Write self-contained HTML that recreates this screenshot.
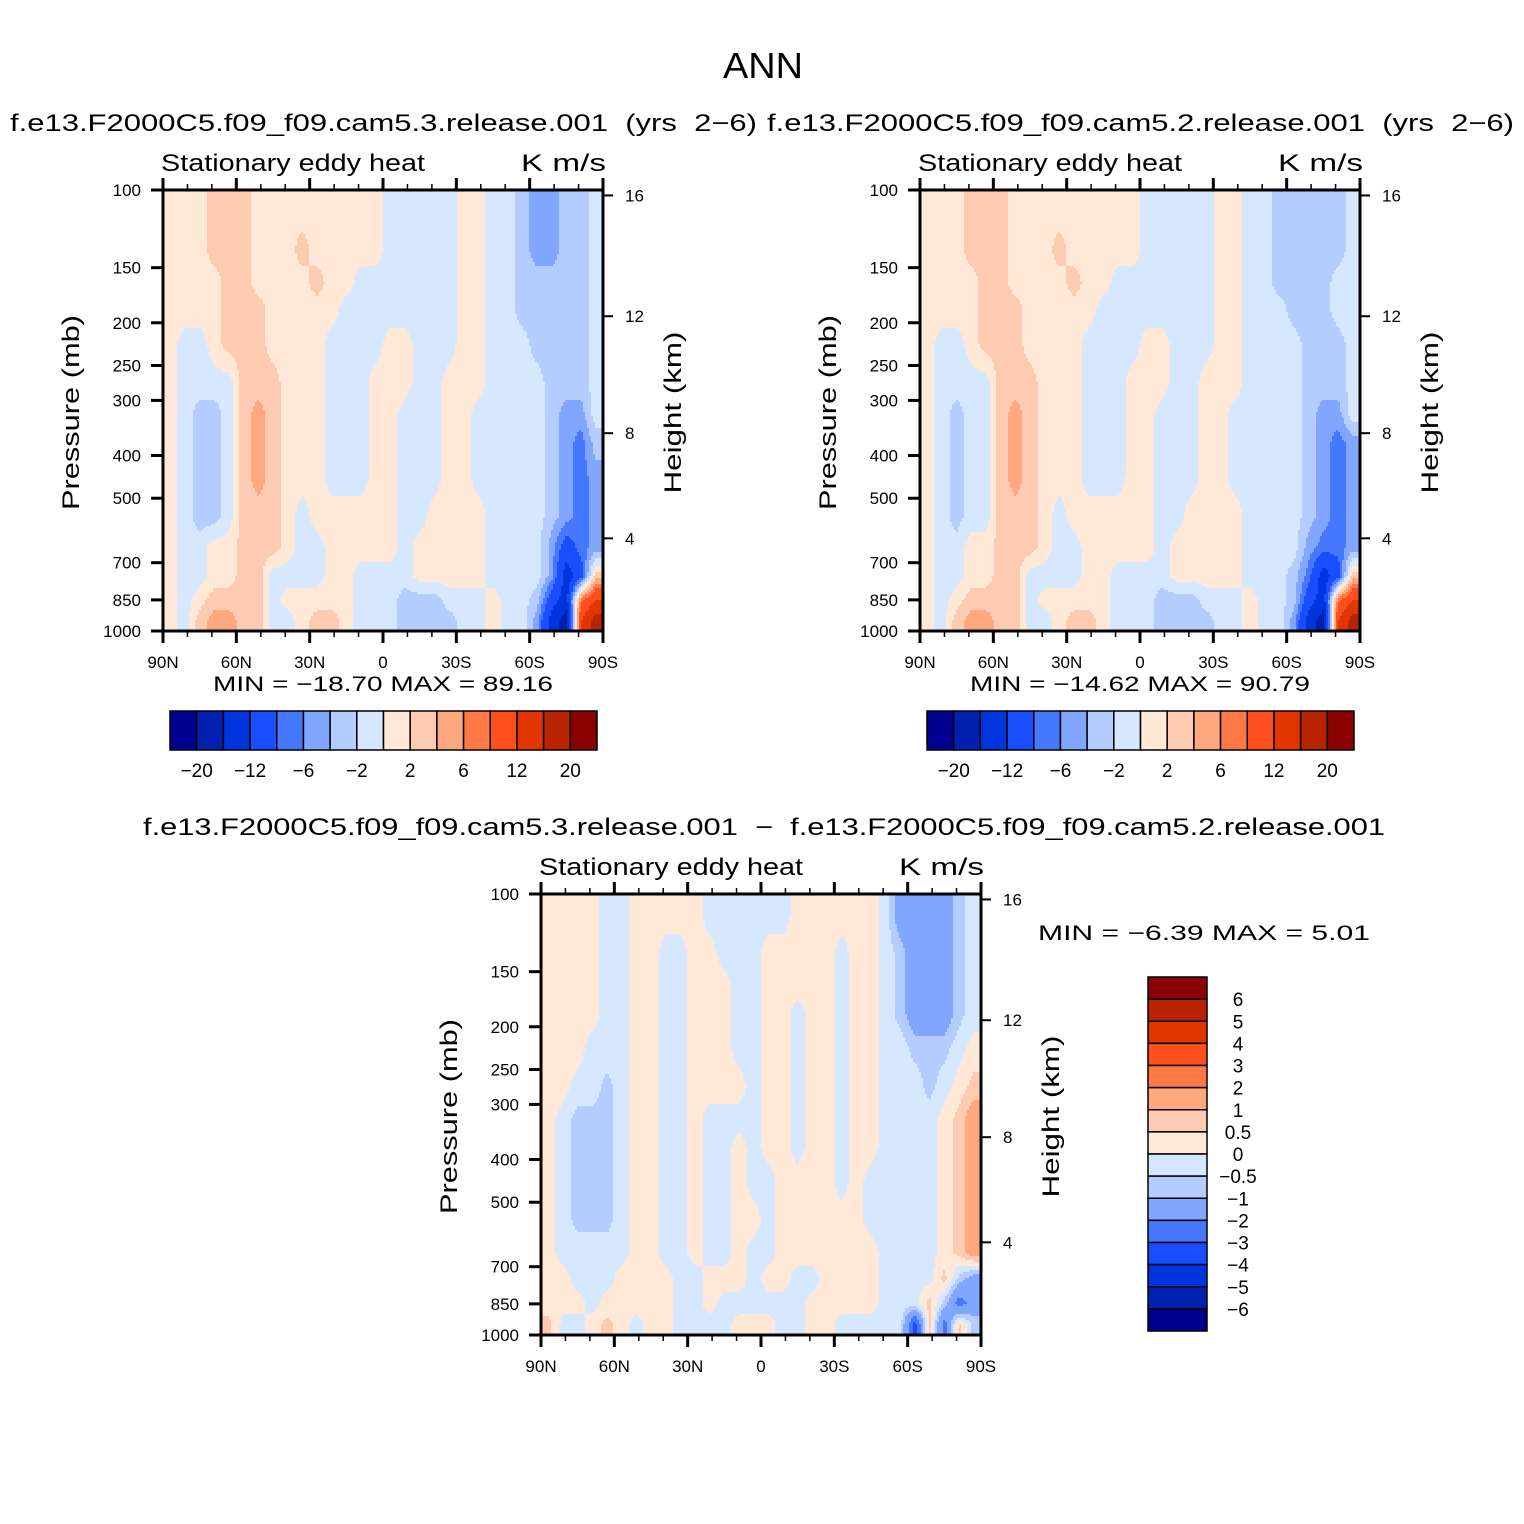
<!DOCTYPE html>
<html><head><meta charset="utf-8"><style>
html,body{margin:0;padding:0;background:#fff;}
svg{display:block;font-family:"Liberation Sans",sans-serif;}
</style></head><body>
<svg id="fig" width="1524" height="1524" viewBox="0 0 1524 1524" xmlns="http://www.w3.org/2000/svg">
<rect x="0" y="0" width="1524" height="1524" fill="#fff"/>
<text x="763" y="78" font-size="36" text-anchor="middle" textLength="80" lengthAdjust="spacingAndGlyphs">ANN</text>
<text x="10" y="131" font-size="24" textLength="747" lengthAdjust="spacingAndGlyphs" xml:space="preserve">f.e13.F2000C5.f09_f09.cam5.3.release.001  (yrs  2−6)</text>
<text x="767" y="131" font-size="24" textLength="747" lengthAdjust="spacingAndGlyphs" xml:space="preserve">f.e13.F2000C5.f09_f09.cam5.2.release.001  (yrs  2−6)</text>
<text x="143" y="835" font-size="24" textLength="1242" lengthAdjust="spacingAndGlyphs" xml:space="preserve">f.e13.F2000C5.f09_f09.cam5.3.release.001  −  f.e13.F2000C5.f09_f09.cam5.2.release.001</text>
</svg>
<script>
// ---- data ----
const latCenters = [87,81,75,69,63,57,51,45,39,33,27,21,15,9,3,-3,-9,-15,-21,-27,-33,-39,-45,-51,-57,-63,-69,-75,-81,-87];
const pressureEdges = [100,125,150,175,200,250,300,350,400,500,600,700,800,900,1000];
const pressureTicks = [100,150,200,250,300,400,500,700,850,1000];
const heightTicks = [4,8,12,16];
const latTicks = [90,60,30,0,-30,-60,-90];
const latTickLabels = ["90N","60N","30N","0","30S","60S","90S"];
const levelsAbs = [-20,-16,-12,-8,-6,-4,-2,0,2,4,6,8,12,16,20];
const levelsAbsLabels = ["−20","","−12","","−6","","−2","","2","","6","","12","","20"];
const levelsDiff = [-6,-5,-4,-3,-2,-1,-0.5,0,0.5,1,2,3,4,5,6];
const levelsDiffLabels = ["−6","−5","−4","−3","−2","−1","−0.5","0","0.5","1","2","3","4","5","6"];
const palette = ["#000090","#0020B0","#0035DD","#1A4DFF","#4677FF","#80A6FF","#B4CCFF","#D6E8FF","#FFE8D6","#FFCAB2","#FFA880","#FF7846","#FF4F1E","#E33500","#B82400","#8B0000"];

const p1Values = [
[1,1,1,3,3,3,1,1,1,1,1,1,1,1,1,-1,-1,-1,-1,-1,1,1,-1,-1,-3,-5,-5,-3,-3,-1],
[1,1,1,3,3,3,1,1,1,3,1,1,1,1,1,-1,-1,-1,-1,-1,1,1,-1,-1,-3,-5,-5,-3,-3,-1],
[1,1,1,1,3,3,1,1,1,1,3,1,1,-1,-1,-1,-1,-1,-1,-1,1,1,-1,-1,-3,-3,-3,-3,-3,-1],
[1,1,1,1,3,3,3,1,1,1,1,1,-1,-1,-1,-1,-1,-1,-1,-1,1,1,-1,-1,-3,-3,-3,-3,-3,-1],
[1,-1,-1,1,3,3,3,1,1,1,1,-1,-1,-1,-1,1,1,-1,-1,-1,1,1,-1,-1,-1,-3,-3,-3,-3,-1],
[1,-1,-1,-1,-1,3,3,3,1,1,1,-1,-1,-1,1,1,1,-1,-1,1,1,1,-1,-1,-1,-1,-3,-3,-3,-1],
[1,-1,-3,-3,-1,3,5,3,1,1,1,-1,-1,-1,1,1,-1,-1,-1,1,1,-1,-1,-1,-1,-1,-3,-5,-5,-1],
[1,-1,-3,-3,-1,3,5,3,1,1,1,-1,-1,-1,1,1,-1,-1,-1,1,1,-1,-1,-1,-1,-1,-3,-5,-7,-3],
[1,-1,-3,-3,-1,3,5,3,1,1,1,-1,-1,-1,1,1,-1,-1,-1,1,1,-1,-1,-1,-1,-1,-3,-5,-7,-5],
[1,-1,-3,-3,-1,3,3,3,1,-1,1,1,1,1,1,1,-1,-1,1,1,1,1,-1,-1,-1,-1,-3,-5,-7,-5],
[1,-1,-1,1,1,3,3,3,1,-1,-1,1,1,1,1,1,-1,1,1,1,1,1,-1,-1,-1,-1,-5,-10,-7,-5],
[1,-1,-1,1,1,3,3,-1,-1,-1,-1,1,1,-1,-1,-1,-1,1,1,1,1,1,-1,-1,-1,-1,-5,-14,-10,3],
[1,-1,1,3,3,3,3,-1,1,1,1,1,1,-1,-1,-1,-3,-3,-3,-1,-1,-1,1,-1,-1,-3,-10,-14,7,12],
[1,-1,3,5,5,3,3,-1,-1,1,3,3,1,-1,-1,-1,-3,-3,-3,-3,-1,-1,1,-1,-1,-5,-14,-18,12,18]
];
const p2Values = [
[1,1,1,3,3,3,1,1,1,1,1,1,1,1,1,-1,-1,-1,-1,-1,1,1,-1,-1,-3,-3,-3,-3,-3,-1],
[1,1,1,3,3,3,1,1,1,3,1,1,1,1,1,-1,-1,-1,-1,-1,1,1,-1,-1,-3,-3,-3,-3,-3,-1],
[1,1,1,1,3,3,1,1,1,1,3,1,1,-1,-1,-1,-1,-1,-1,-1,1,1,-1,-1,-3,-3,-3,-3,-1,-1],
[1,1,1,1,3,3,3,1,1,1,1,1,-1,-1,-1,-1,-1,-1,-1,-1,1,1,-1,-1,-1,-3,-3,-3,-1,-1],
[1,-1,-1,1,3,3,3,1,1,1,1,-1,-1,-1,-1,1,1,-1,-1,-1,1,1,-1,-1,-1,-1,-3,-3,-3,-1],
[1,-1,-1,-1,-1,3,3,3,1,1,1,-1,-1,-1,1,1,1,-1,-1,1,1,1,-1,-1,-1,-1,-3,-3,-3,-1],
[1,-1,-3,-1,-1,3,5,3,1,1,1,-1,-1,-1,1,1,-1,-1,-1,1,1,-1,-1,-1,-1,-1,-3,-5,-5,-1],
[1,-1,-3,-1,-1,3,5,3,1,1,1,-1,-1,-1,1,1,-1,-1,-1,1,1,-1,-1,-1,-1,-1,-3,-5,-7,-5],
[1,-1,-3,-1,-1,3,5,3,1,1,1,-1,-1,-1,1,1,-1,-1,-1,1,1,-1,-1,-1,-1,-1,-3,-5,-7,-5],
[1,-1,-3,-1,-1,3,3,3,1,-1,1,1,1,1,1,1,-1,-1,1,1,1,1,-1,-1,-1,-1,-3,-5,-7,-5],
[1,-1,-1,1,1,3,3,3,1,-1,-1,1,1,1,1,1,-1,1,1,1,1,1,-1,-1,-1,-1,-5,-7,-7,-5],
[1,-1,-1,1,1,3,3,-1,-1,-1,-1,1,1,-1,-1,-1,-1,1,1,1,1,1,-1,-1,-1,-3,-7,-14,-10,3],
[1,-1,1,3,3,3,3,-1,1,1,1,1,1,-1,-1,-1,-3,-3,-3,-1,-1,-1,1,-1,-1,-3,-10,-14,7,12],
[1,-1,3,5,5,3,3,-1,-1,1,3,3,1,-1,-1,-1,-3,-3,-3,-3,-1,-1,1,-1,-1,-5,-14,-18,12,18]
];
const p3Values = [
[.2,.2,.2,.2,-.2,-.2,.2,.2,.2,.2,.2,-.2,-.2,-.2,-.2,-.2,-.2,.2,.2,.2,.2,.2,.2,-.2,-1.5,-1.5,-1.5,-1.5,-.7,-.2],
[.2,.2,.2,.2,-.2,-.2,.2,.2,-.2,-.2,.2,.2,-.2,-.2,-.2,.2,.2,.2,.2,.2,-.2,.2,.2,-.2,-.7,-1.5,-1.5,-1.5,-.7,-.2],
[.2,.2,.2,.2,-.2,-.2,.2,.2,-.2,-.2,.2,.2,.2,-.2,-.2,.2,.2,.2,.2,.2,-.2,.2,.2,-.2,-.7,-1.5,-1.5,-1.5,-.7,-.2],
[.2,.2,.2,.2,-.2,-.2,.2,.2,-.2,-.2,.2,.2,.2,-.2,-.2,.2,.2,-.2,.2,.2,-.2,.2,.2,-.2,-.7,-1.5,-1.5,-1.5,-.7,-.2],
[.2,.2,.2,-.2,-.2,-.2,.2,.2,-.2,-.2,.2,.2,.2,-.2,-.2,.2,.2,-.2,.2,.2,-.2,.2,.2,-.2,-.2,-.7,-.7,-.7,-.2,.2],
[.2,.2,-.2,-.2,-.7,-.2,.2,.2,-.2,-.2,.2,.2,.2,.2,-.2,.2,.2,-.2,.2,.2,-.2,.2,.2,-.2,-.2,-.2,-.7,-.2,.2,.7],
[.2,-.2,-.7,-.7,-.7,-.2,.2,.2,-.2,-.2,.2,-.2,-.2,-.2,-.2,.2,.2,-.2,.2,.2,-.2,.2,.2,-.2,-.2,-.2,-.2,.2,.7,1.5],
[.2,-.2,-.7,-.7,-.7,-.2,.2,.2,-.2,-.2,.2,-.2,-.2,.2,-.2,.2,.2,-.2,.2,.2,-.2,.2,.2,-.2,-.2,-.2,-.2,.2,.7,1.5],
[.2,-.2,-.7,-.7,-.7,-.2,.2,.2,-.2,-.2,.2,-.2,-.2,.2,-.2,-.2,.2,.2,.2,.2,-.2,.2,-.2,-.2,-.2,-.2,-.2,.2,.7,1.5],
[.2,-.2,-.7,-.7,-.7,-.2,.2,.2,-.2,-.2,.2,-.2,-.2,.2,.2,-.2,.2,.2,.2,.2,.2,.2,-.2,-.2,-.2,-.2,-.2,.2,.7,1.5],
[.2,-.2,-.2,-.2,-.2,-.2,.2,.2,-.2,-.2,.2,-.2,-.2,.2,-.2,-.2,.2,.2,.2,.2,.2,.2,.2,-.2,-.2,-.2,-.2,.2,.7,1.5],
[.2,.2,-.2,-.2,-.2,.2,.2,.2,.2,-.2,-.2,.2,.2,.2,-.2,.2,.2,-.2,-.2,.2,.2,.2,.2,-.2,-.2,-.2,-.2,.7,-.7,-1.5],
[.2,.2,.2,-.2,.2,.2,.2,.2,.2,-.2,-.2,.2,-.2,-.2,-.2,-.2,-.2,-.2,.2,.2,.2,.2,.2,-.2,-.2,-.2,.7,-.7,-2.5,-1.5],
[.7,-.2,-.2,.2,.7,.2,-.2,.2,.2,-.2,-.2,-.2,-.2,.2,.2,.2,-.2,-.2,.2,.2,-.2,-.2,-.2,-.2,-.2,-3.5,.7,-2.5,.7,-.7]
];

// ---- drawing ----
const NS = "http://www.w3.org/2000/svg";
const svg = document.getElementById('fig');
const PW = 440, PH = 441;
function mk(tag, attrs, parent){ const e=document.createElementNS(NS,tag); for(const k in attrs) e.setAttribute(k,attrs[k]); (parent||svg).appendChild(e); return e; }
function xOf(lat,x0){ return x0 + (90-lat)/180*PW; }
function yOfLog(lp,y0){ return y0 + (lp-2)*PH; }
function yOf(p,y0){ return yOfLog(Math.log10(p),y0); }
function pressureAtHeight(km){ const z=km*1000; if(z<=11000) return 1013.25*Math.pow(1-2.25577e-5*z,5.25588); return 226.32*Math.exp(-(z-11000)/6341.6); }
const rowLogCenters = [];
for(let k=0;k<pressureEdges.length-1;k++) rowLogCenters.push((Math.log10(pressureEdges[k])+Math.log10(pressureEdges[k+1]))/2);

function sample(vals, lat, lp){
  let fc = (latCenters[0]-lat)/(latCenters[0]-latCenters[1]);
  fc = Math.max(0, Math.min(latCenters.length-1, fc));
  let fr = 0;
  if(lp<=rowLogCenters[0]) fr=0;
  else if(lp>=rowLogCenters[rowLogCenters.length-1]) fr=rowLogCenters.length-1;
  else { for(let k=0;k<rowLogCenters.length-1;k++){ if(lp>=rowLogCenters[k]&&lp<=rowLogCenters[k+1]){ fr=k+(lp-rowLogCenters[k])/(rowLogCenters[k+1]-rowLogCenters[k]); break; } } }
  const c0=Math.floor(fc), c1=Math.min(c0+1,latCenters.length-1), tc=fc-c0;
  const r0=Math.floor(fr), r1=Math.min(r0+1,rowLogCenters.length-1), tr=fr-r0;
  const a=vals[r0][c0]*(1-tc)+vals[r0][c1]*tc;
  const b=vals[r1][c0]*(1-tc)+vals[r1][c1]*tc;
  return a*(1-tr)+b*tr;
}
function levelIndex(v, levels){ let i=0; while(i<levels.length && v>=levels[i]) i++; return i; }

function drawField(vals, levels, x0, y0, name){
  const g = mk('g',{});
  
  
  const step=2;
  for(let py=0; py<PH; py+=step){
    const lp = 2 + Math.min(py+step/2,PH)/PH;
    let runStart=0, runIdx=-1;
    const h=Math.min(step,PH-py);
    for(let px=0; px<PW+step; px+=step){
      let idx=-2;
      if(px<PW){ const lat = 90 - Math.min(px+step/2,PW)/PW*180; idx = levelIndex(sample(vals,lat,lp),levels); }
      if(idx!==runIdx){
        if(runIdx>=0){ const r=mk('rect',{x:x0+runStart,y:y0+py,width:Math.min(px,PW)-runStart+0.5,height:h+0.5,fill:palette[runIdx]},g);
          
           }
        runStart=px; runIdx=idx;
      }
    }
  }
}

function drawAxes(x0,y0,name,titleY){
  const g=mk('g',{});
  
  
  for(let lat=90; lat>=-90; lat-=10){
    const x=xOf(lat,x0); const major = lat%30===0; const len = major?12:6;
    mk('line',{x1:x,y1:y0,x2:x,y2:y0-len,stroke:'#000','stroke-width':major?3:1.5},g);
    mk('line',{x1:x,y1:y0+PH,x2:x,y2:y0+PH+len,stroke:'#000','stroke-width':major?3:1.5},g);
  }
  latTicks.forEach((lat,i)=>{
    const t=mk('text',{x:xOf(lat,x0),y:y0+PH+37,'font-size':17,'text-anchor':'middle'},g); t.textContent=latTickLabels[i];
    
    
  });
  pressureTicks.forEach(p=>{
    const y=yOf(p,y0);
    mk('line',{x1:x0-12,y1:y,x2:x0,y2:y,stroke:'#000','stroke-width':3},g);
    const t=mk('text',{x:x0-22,y:y+6,'font-size':17,'text-anchor':'end'},g); t.textContent=String(p);
    
    
  });
  heightTicks.forEach(hk=>{
    const y=yOf(pressureAtHeight(hk),y0);
    mk('line',{x1:x0+PW,y1:y,x2:x0+PW+10,y2:y,stroke:'#000','stroke-width':2},g);
    const t=mk('text',{x:x0+PW+22,y:y+6,'font-size':17},g); t.textContent=String(hk);
    
    
  });
  mk('rect',{x:x0,y:y0,width:PW,height:PH,fill:'none',stroke:'#000','stroke-width':3},g);
  const cy=y0+PH/2+2;
  const yl=mk('text',{x:0,y:0,'font-size':24,'text-anchor':'middle',textLength:195,lengthAdjust:'spacingAndGlyphs',transform:`translate(${x0-84},${cy}) rotate(-90)`},g); yl.textContent='Pressure  (mb)';
  
  
  const hl=mk('text',{x:0,y:0,'font-size':24,'text-anchor':'middle',textLength:162,lengthAdjust:'spacingAndGlyphs',transform:`translate(${x0+PW+78},${cy}) rotate(-90)`},g); hl.textContent='Height  (km)';
  
  
  const s=mk('text',{x:x0-2,y:titleY,'font-size':24,textLength:264,lengthAdjust:'spacingAndGlyphs'},g); s.textContent='Stationary  eddy  heat';
  
  
  const u=mk('text',{x:x0+358,y:titleY,'font-size':24,textLength:85,lengthAdjust:'spacingAndGlyphs'},g); u.textContent='K  m/s';
  
  
}

function hColorbar(x0,y0,name){
  const g=mk('g',{});
  
  
  const w=427/16;
  palette.forEach((c,i)=>{ const r=mk('rect',{x:x0+i*w,y:y0,width:w,height:39,fill:c,stroke:'#000','stroke-width':1.5},g);
    
     });
  levelsAbs.forEach((lv,i)=>{ if(!levelsAbsLabels[i]) return;
    const t=mk('text',{x:x0+(i+1)*w,y:y0+66,'font-size':19,'text-anchor':'middle'},g); t.textContent=levelsAbsLabels[i];
    
     });
}
function vColorbar(x0,y0,name){
  const g=mk('g',{});
  
  
  const h=354/16;
  for(let i=0;i<16;i++){ const r=mk('rect',{x:x0,y:y0+i*h,width:59,height:h,fill:palette[15-i],stroke:'#000','stroke-width':1.5},g);
    
     }
  for(let i=0;i<levelsDiff.length;i++){
    const li=levelsDiff.length-1-i;
    const t=mk('text',{x:x0+90,y:y0+(i+1)*h+7,'font-size':19,'text-anchor':'middle'},g); t.textContent=levelsDiffLabels[li];
    
    
  }
}
function minmax(x,y,len,txt,name){
  const t=mk('text',{x:x,y:y,'font-size':21,textLength:len,lengthAdjust:'spacingAndGlyphs','xml:space':'preserve'}); t.textContent=txt;
  
  
}

drawField(p1Values, levelsAbs, 163, 190, 'panel1');
drawAxes(163,190,'panel1',171);
minmax(213,691,340,'MIN  =  −18.70    MAX  =    89.16','panel1-min-max');
hColorbar(170,711,'panel1-colorbar');

drawField(p2Values, levelsAbs, 920, 190, 'panel2');
drawAxes(920,190,'panel2',171);
minmax(970,691,340,'MIN  =  −14.62    MAX  =    90.79','panel2-min-max');
hColorbar(927,711,'panel2-colorbar');

drawField(p3Values, levelsDiff, 541, 894, 'panel3');
drawAxes(541,894,'panel3',875);
minmax(1038,940,332,'MIN  =    −6.39    MAX  =     5.01','panel3-min-max');
vColorbar(1148,977,'panel3-colorbar');
</script>
</body></html>
